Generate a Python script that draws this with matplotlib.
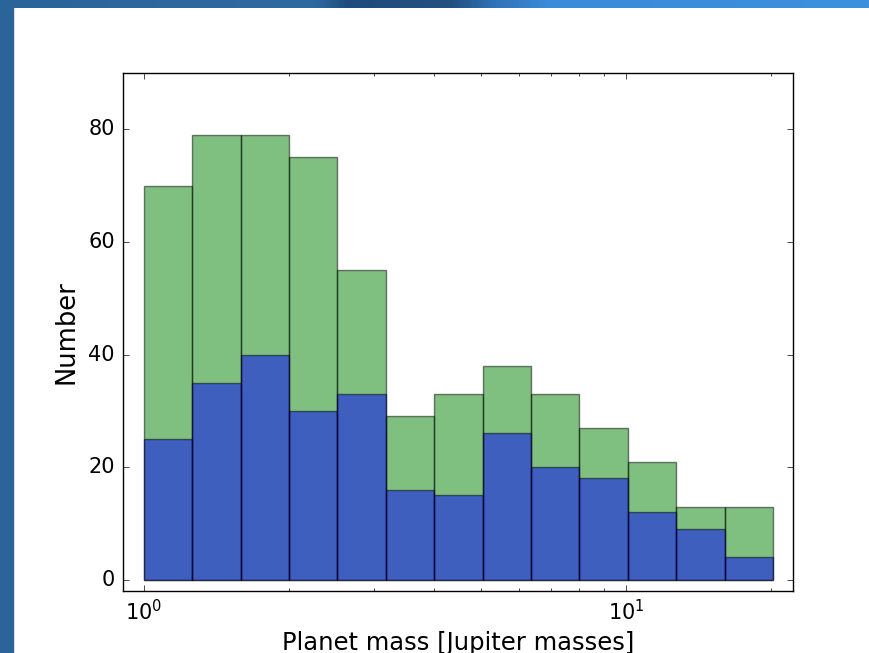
import numpy as np
import matplotlib
matplotlib.use("Agg")
import matplotlib.pyplot as plt
from matplotlib.colors import LinearSegmentedColormap

plt.style.use("classic")
plt.rcParams["mathtext.fontset"] = "dejavusans"
plt.rcParams["font.family"] = ["DejaVu Sans"]

# Histogram data (log-spaced mass bins from 1 to 20 Jupiter masses)
bin_edges = np.logspace(0, 1.305, 14)
all_counts = [70, 79, 79, 75, 55, 29, 33, 38, 33, 27, 21, 13, 13]
sub_counts = [25, 35, 40, 30, 33, 16, 15, 26, 20, 18, 12, 9, 4]
y_ticks = [0, 20, 40, 60, 80]

fig = plt.figure(figsize=(8.69, 6.53), dpi=100, facecolor="white")

# Slide decoration: left strip and top gradient strip
fig.patches.append(plt.Rectangle((0, 0), 13 / 869, 1, transform=fig.transFigure,
                                 color="#2a6499", zorder=0))
top_ax = fig.add_axes([0, 1 - 8 / 653, 1, 8 / 653])
cmap = LinearSegmentedColormap.from_list(
    "band",
    [(0.0, "#2a6499"), (0.36, "#2e6aa2"), (0.40, "#1f4c7c"), (0.52, "#22507f"),
     (0.57, "#2f72b8"), (0.63, "#3a8bd8"), (1.0, "#3d90de")])
top_ax.imshow(np.linspace(0, 1, 400)[None, :], aspect="auto", cmap=cmap,
              extent=[0, 1, 0, 1])
top_ax.set_axis_off()

ax = fig.add_axes([123 / 869, 1 - 591 / 653, 670 / 869, 518 / 653])
widths = np.diff(bin_edges)
ax.bar(bin_edges[:-1], all_counts, width=widths, align="edge",
       color="g", alpha=0.5, edgecolor="black", linewidth=1)
ax.bar(bin_edges[:-1], sub_counts, width=widths, align="edge",
       color="b", alpha=0.5, edgecolor="black", linewidth=1)

ax.set_xscale("log")
ax.set_xlim(0.905, 22.2)
ax.set_ylim(-2, 90)
ax.set_yticks(y_ticks)
ax.tick_params(axis="both", which="major", labelsize=15, length=4, direction="in",
               top=True, right=True, pad=6)
ax.tick_params(axis="x", which="minor", length=2, direction="in", top=True)
ax.set_xlabel("Planet mass [Jupiter masses]", fontsize=17.5, labelpad=5)
ax.set_ylabel("Number", fontsize=18.5, labelpad=6)

fig.savefig("out.png", dpi=100, facecolor="white")
